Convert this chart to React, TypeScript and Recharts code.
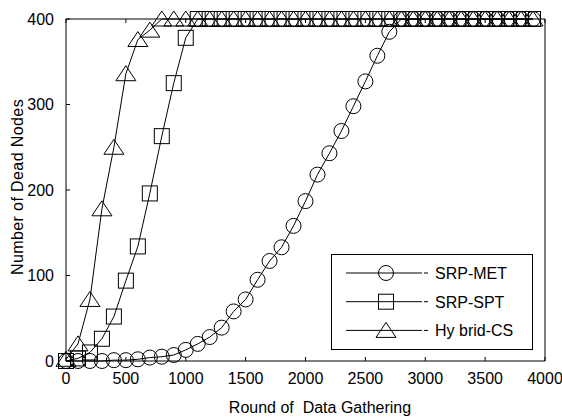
import React from 'react';
import { LineChart, Line, XAxis, YAxis, Legend } from 'recharts';

const rounds = [
  0, 100, 200, 300, 400, 500, 600, 700, 800, 900,
  1000, 1100, 1200, 1300, 1400, 1500, 1600, 1700, 1800, 1900,
  2000, 2100, 2200, 2300, 2400, 2500, 2600, 2700, 2800, 2900,
  3000, 3100, 3200, 3300, 3400, 3500, 3600, 3700, 3800, 3900,
];

const srpMet = [
  0, 0, 0, 0, 1, 1, 2, 4, 5, 7,
  13, 20, 28, 39, 58, 72, 95, 117, 133, 158,
  187, 218, 243, 269, 298, 327, 357, 385, 400, 400,
  400, 400, 400, 400, 400, 400, 400, 400, 400, 400,
];

const srpSpt = [
  0, 3, 10, 26, 52, 94, 134, 196, 263, 325,
  378, 400, 400, 400, 400, 400, 400, 400, 400, 400,
  400, 400, 400, 400, 400, 400, 400, 400, 400, 400,
  400, 400, 400, 400, 400, 400, 400, 400, 400, 400,
];

const hybridCs = [
  2, 20, 72, 178, 250, 336, 376, 387, 400, 400,
  400, 400, 400, 400, 400, 400, 400, 400, 400, 400,
  400, 400, 400, 400, 400, 400, 400, 400, 400, 400,
  400, 400, 400, 400, 400, 400, 400, 400, 400, 400,
];

const xTicks = [0, 500, 1000, 1500, 2000, 2500, 3000, 3500, 4000];
const yTicks = [0, 100, 200, 300, 400];

const seriesNames = ['SRP-MET', 'SRP-SPT', 'Hy brid-CS'];

const FONT = 'Arial, "Liberation Sans", Helvetica, sans-serif';

const table = rounds.map((r, i) => ({ round: r, met: srpMet[i], spt: srpSpt[i], hyb: hybridCs[i] }));

function Marker({ kind, cx, cy }: { kind: string; cx: number; cy: number }) {
  if (kind === 'circle') return <circle cx={cx} cy={cy} r={7.5} fill="none" stroke="#000" strokeWidth={1} />;
  if (kind === 'square') return <rect x={cx - 7.5} y={cy - 7.5} width={15} height={15} fill="none" stroke="#000" strokeWidth={1} />;
  return (
    <polygon
      points={`${cx},${cy - 8} ${cx - 10},${cy + 7} ${cx + 10},${cy + 7}`}
      fill="none"
      stroke="#000"
      strokeWidth={1}
    />
  );
}

const makeDot = (kind: string) => (p: any) => {
  if (p.cx == null || p.cy == null) return <g key={p.index} />;
  return (
    <g key={p.index}>
      <Marker kind={kind} cx={p.cx} cy={p.cy} />
    </g>
  );
};

function LegendBox() {
  const kinds = ['circle', 'square', 'triangle'];
  return (
    <svg width={202} height={96} style={{ display: 'block' }}>
      <rect x={0.5} y={0.5} width={201} height={95} fill="#fff" stroke="#000" strokeWidth={1} />
      {kinds.map((k, i) => {
        const y = 19 + i * 28.7;
        return (
          <g key={k}>
            <line x1={15} x2={91} y1={y} y2={y} stroke="#000" strokeWidth={1} />
            <line x1={93} x2={97} y1={y} y2={y} stroke="#000" strokeWidth={1} />
            <Marker kind={k} cx={55} cy={y} />
            <text x={104} y={y + 6} fontSize={16} fontFamily={FONT} fill="#000" style={{ whiteSpace: 'pre' }}>
              {seriesNames[i]}
            </text>
          </g>
        );
      })}
    </svg>
  );
}

function XLabel() {
  return (
    <text x={320} y={413} textAnchor="middle" fontSize={16} fontFamily={FONT} fill="#000" style={{ whiteSpace: 'pre' }}>
      Round of  Data Gathering
    </text>
  );
}

function YLabel() {
  return (
    <text
      x={17}
      y={187}
      transform="rotate(-90 17 187)"
      textAnchor="middle"
      dominantBaseline="central"
      fontSize={16}
      fontFamily={FONT}
      letterSpacing={0.4}
      fill="#000"
    >
      Number of Dead Nodes
    </text>
  );
}

const tickStyle = { fill: '#000', fontSize: 16, fontFamily: FONT };

export default function App() {
  return (
    <div style={{ position: 'absolute', left: 0, top: 0, width: 562, height: 418, background: '#fff' }}>
      <LineChart width={562} height={418} data={table} margin={{ top: 18, right: 16, bottom: 27, left: 6 }}>
        <XAxis
          dataKey="round"
          type="number"
          domain={[0, 4000]}
          ticks={xTicks}
          interval={0}
          height={30}
          tickSize={-4}
          tickMargin={16}
          axisLine={{ stroke: '#000' }}
          tickLine={{ stroke: '#000' }}
          tick={tickStyle}
          label={<XLabel />}
        />
        <XAxis
          xAxisId="top"
          orientation="top"
          dataKey="round"
          type="number"
          domain={[0, 4000]}
          ticks={xTicks}
          interval={0}
          height={1}
          tickSize={-4}
          tickFormatter={() => ''}
          axisLine={{ stroke: '#000' }}
          tickLine={{ stroke: '#000' }}
        />
        <YAxis
          domain={[0, 400]}
          ticks={yTicks}
          interval={0}
          width={60}
          tickSize={-4}
          tickMargin={16}
          axisLine={{ stroke: '#000' }}
          tickLine={{ stroke: '#000' }}
          tick={tickStyle}
          label={<YLabel />}
        />
        <YAxis
          yAxisId="right"
          orientation="right"
          domain={[0, 400]}
          ticks={yTicks}
          interval={0}
          width={1}
          tickSize={-4}
          tickFormatter={() => ''}
          axisLine={{ stroke: '#000' }}
          tickLine={{ stroke: '#000' }}
        />
        <Legend
          content={<LegendBox />}
          layout="vertical"
          align="center"
          verticalAlign="middle"
          wrapperStyle={{ left: 331, top: 254, width: 202, height: 96 }}
        />
        <Line dataKey="met" name={seriesNames[0]} type="linear" stroke="#000" strokeWidth={1} dot={makeDot('circle')} isAnimationActive={false} />
        <Line dataKey="spt" name={seriesNames[1]} type="linear" stroke="#000" strokeWidth={1} dot={makeDot('square')} isAnimationActive={false} />
        <Line dataKey="hyb" name={seriesNames[2]} type="linear" stroke="#000" strokeWidth={1} dot={makeDot('triangle')} isAnimationActive={false} />
      </LineChart>
    </div>
  );
}
